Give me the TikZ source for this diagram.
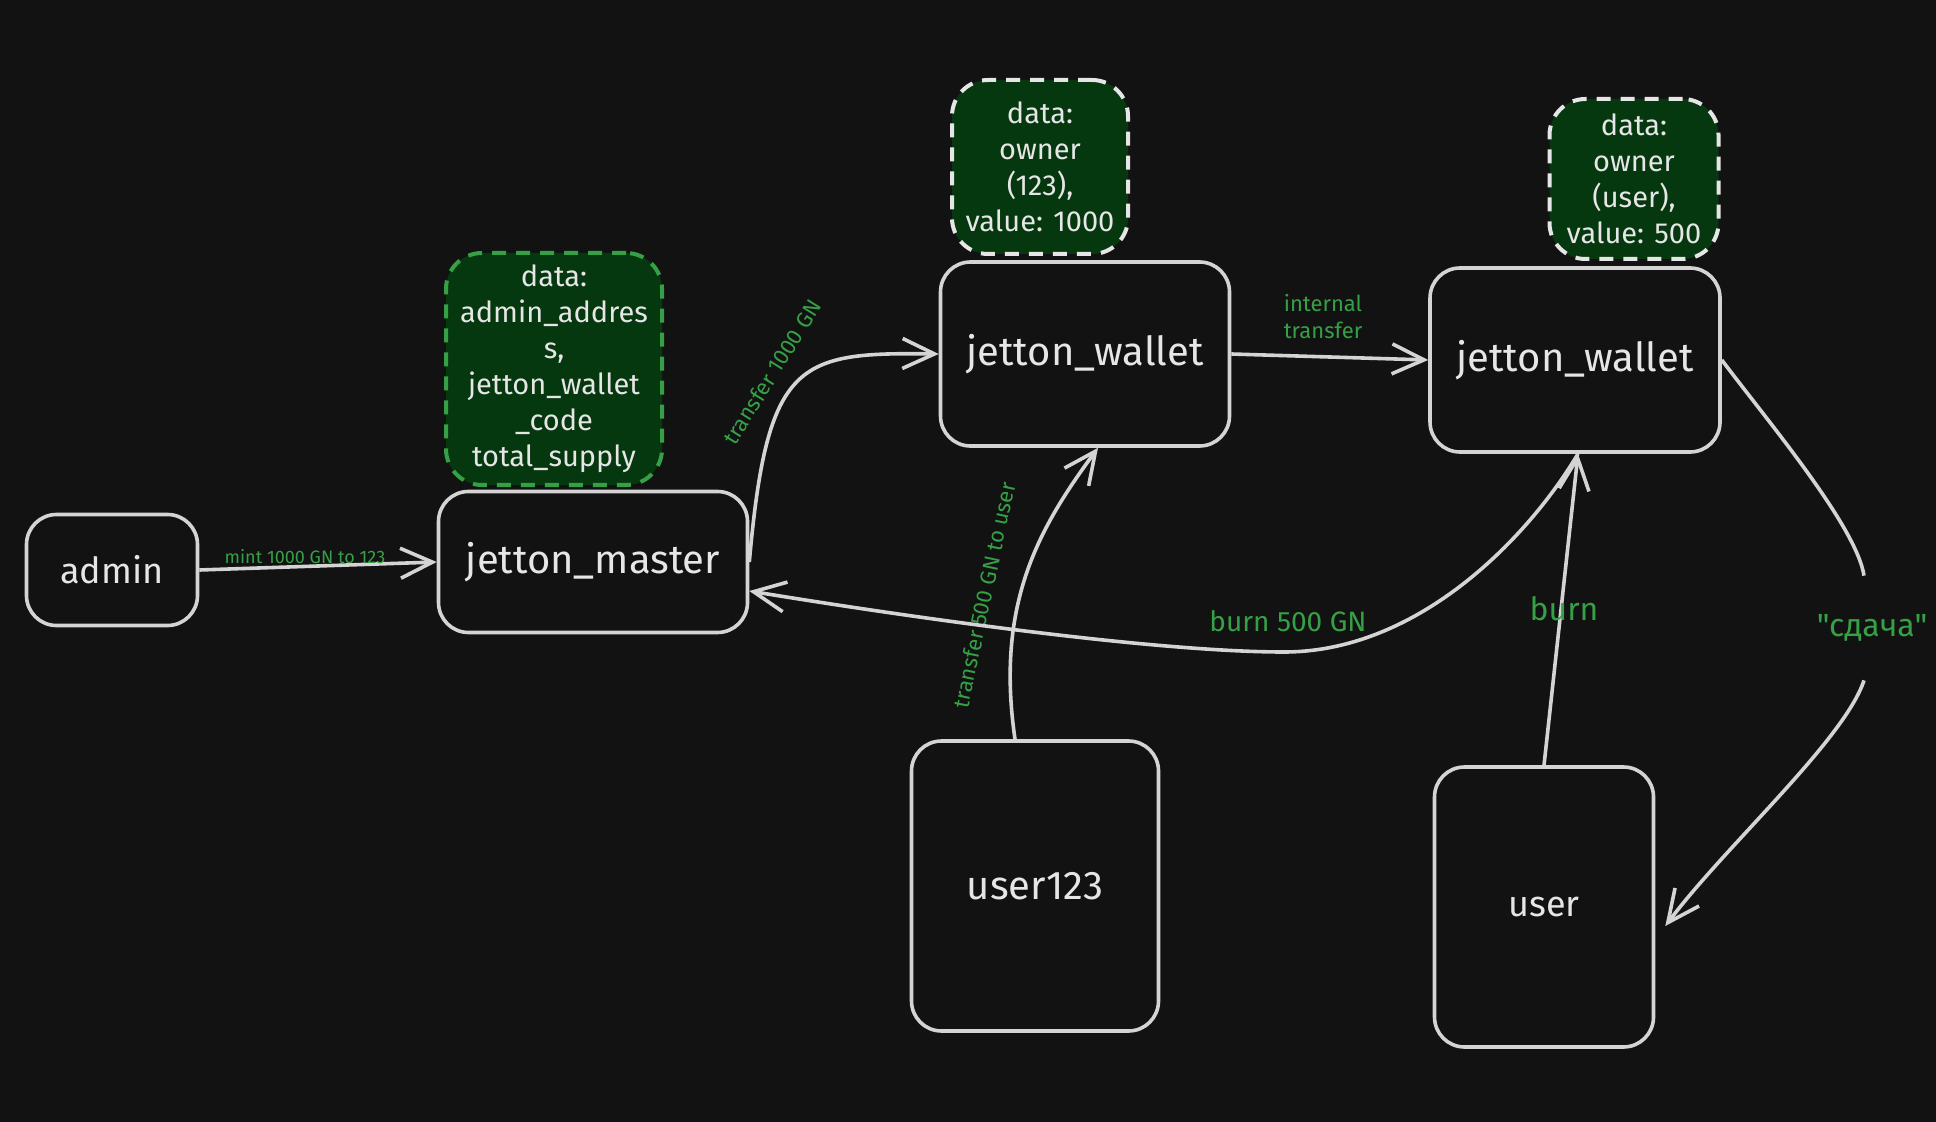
\documentclass[tikz,border=0pt]{standalone}
\usepackage{fontspec}
\setmainfont{Fira Sans}
% same family without TeX ligatures, so " stays a straight quote
\newfontfamily\plainfont{Fira Sans}
\usetikzlibrary{arrows.meta}
\definecolor{bg}{HTML}{121212}
\definecolor{stroke}{HTML}{D4D4D4}
\definecolor{ink}{HTML}{E6E6E6}
\definecolor{lblgreen}{HTML}{36A046}
\definecolor{datafill}{HTML}{05380F}
\begin{document}
\begin{tikzpicture}[x=0.5pt,y=-0.5pt,
  box/.style={draw=stroke, line width=1.8pt, rounded corners=15pt, fill=bg, text=ink,
    font=\fontsize{20}{24}\selectfont, inner sep=0pt},
  databox/.style={fill=datafill, line width=2pt, dash pattern=on 7pt off 5pt,
    rounded corners=18pt, text=ink, align=center, font=\fontsize{14.5}{18}\selectfont, inner sep=0pt},
  lbl/.style={text=lblgreen, inner sep=1pt},
  line/.style={draw=stroke, line width=1.8pt},
  link/.style={line, -{Straight Barb[length=16pt,width=15pt,line width=1.8pt]}},
]
% canvas
\path[fill=bg] (0,0) rectangle (1936,1122);

% contract state boxes
\node[databox, draw=lblgreen, minimum width=108pt, minimum height=116pt] (jmdata) at (554,369)
  {data:\\admin\_addres\\s,\\jetton\_wallet\\\_code\\total\_supply};
\node[databox, draw=ink, minimum width=88pt, minimum height=87pt] (jw1data) at (1040,167)
  {data:\\owner\\(123),\\value: 1000};
\node[databox, draw=ink, minimum width=84.5pt, minimum height=80pt] (jw2data) at (1634,179)
  {data:\\owner\\(user),\\value: 500};

% actors and contracts
\node[box, font=\fontsize{18}{22}\selectfont, minimum width=85.5pt, minimum height=55.5pt] (admin) at (112,570) {admin};
\node[box, minimum width=154.5pt, minimum height=70.5pt] (jm) at (593,562) {jetton\_master};
\node[box, minimum width=144.5pt, minimum height=92pt] (jw1) at (1085,354) {jetton\_wallet};
\node[box, minimum width=145pt, minimum height=92pt] (jw2) at (1575,360) {jetton\_wallet};
\node[box, minimum width=123.5pt, minimum height=145pt] (u123) at (1035,886) {user123};
\node[box, font=\fontsize{18}{22}\selectfont, minimum width=109.5pt, minimum height=140pt] (user) at (1544,907) {user};

% mint
\draw[link] (admin.east) -- (jm.west);
\node[lbl, font=\fontsize{9}{11}\selectfont] (mintlbl) at (305,557) {mint 1000 GN to 123};

% transfer from master to first wallet
\draw[link] (jm.east) .. controls +(18,-202) and +(-141,-2) .. (jw1.west);
\node[lbl, font=\fontsize{11}{13}\selectfont, rotate=58] (tr1000) at (772,372) {transfer 1000 GN};

% internal transfer
\draw[link] (jw1.east) -- (jw2.west);
\node[lbl, font=\fontsize{11}{13.5}\selectfont, align=left] (intlbl) at (1323,317) {internal\\transfer};

% user123 asks its wallet to transfer
\draw[link] ([xshift=-10pt]u123.north) .. controls +(-20,-137) and +(-58,79) .. ([xshift=6.5pt]jw1.south);
\node[lbl, font=\fontsize{11}{13}\selectfont, rotate=78] (tr500) at (984,595) {transfer 500 GN to user};

% burn notification to master
\draw[link] ([xshift=1.5pt]jw2.south) .. controls +(-48,81) and +(136,0) .. (1284,652)
  .. controls +(-134,0) and +(146,24) .. ([yshift=-14.5pt]jm.east);
\node[lbl, font=\fontsize{14}{17}\selectfont] (burn500) at (1288,621) {burn 500 GN};

% user burns
\draw[link] (user.north) -- ([xshift=1.5pt]jw2.south);
\node[lbl, font=\fontsize{16}{19}\selectfont] (burnlbl) at (1564,609) {burn};

% change returned to user
\node[lbl, font=\plainfont\fontsize{16}{19}\selectfont, minimum height=52pt] (change) at (1872,628) {"сдача"};
\draw[line] (jw2.east) .. controls +(45,60) and +(-8,-50) .. ([xshift=-4pt]change.north);
\draw[link] ([xshift=-4pt]change.south) .. controls +(-20,60) and +(60,-80) .. ([xshift=5pt,yshift=-9.5pt]user.east);
\end{tikzpicture}
\end{document}
